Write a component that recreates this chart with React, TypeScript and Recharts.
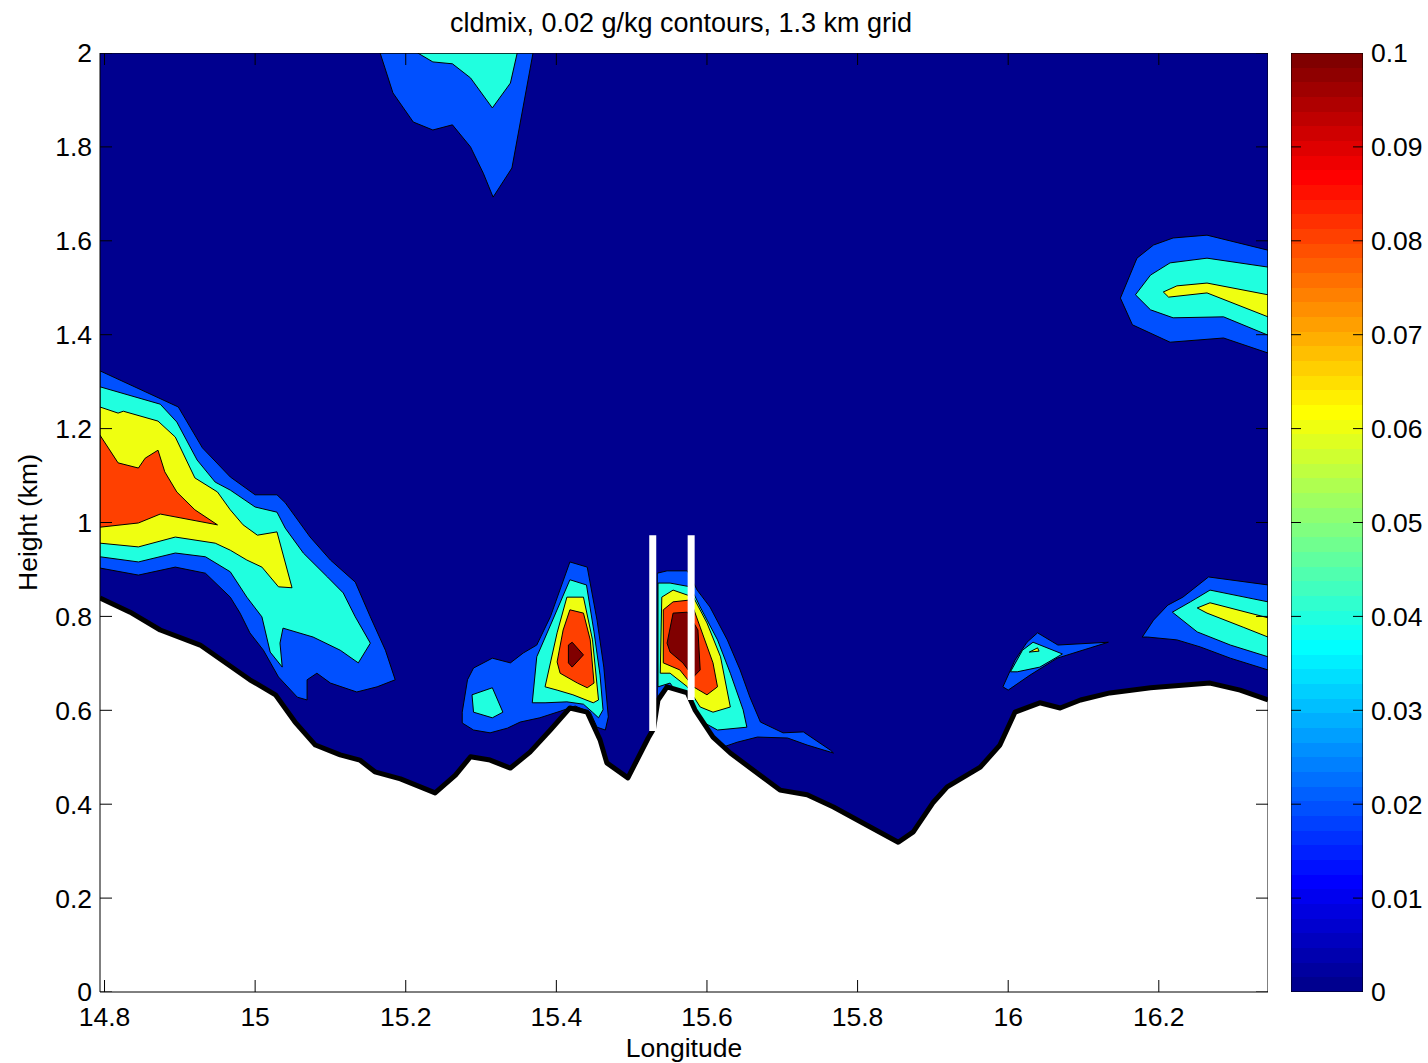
import React from 'react';
import { ComposedChart, XAxis, YAxis, Scatter } from 'recharts';

type Pt = [number, number];

// ---------- axes ----------
const xTicks = [14.8, 15, 15.2, 15.4, 15.6, 15.8, 16, 16.2];
const yTicks = [0, 0.2, 0.4, 0.6, 0.8, 1, 1.2, 1.4, 1.6, 1.8, 2];
const cbTicks = [0, 0.01, 0.02, 0.03, 0.04, 0.05, 0.06, 0.07, 0.08, 0.09, 0.1];
const lonDomain: [number, number] = [14.794, 16.345];
const hDomain: [number, number] = [0, 2];
const cbDomain: [number, number] = [0, 0.1];

// contour level colours (jet colormap at 0, 0.02, 0.04, 0.06, 0.08, 0.1)
const levelColors = ['#00008F', '#0050FF', '#20FFDF', '#EFFF10', '#FF4000', '#800000'];

// ---------- data (lon, height km) ----------
const plotFrame: Pt[] = [[14.794, 0], [14.794, 2], [16.345, 2], [16.345, 0]];
const colorbarFrame: Pt[] = [[0, 0], [0, 0.1], [1, 0.1], [1, 0]];

const terrain: Pt[] = [
  [14.794, 0.839], [14.834, 0.809], [14.874, 0.771], [14.927, 0.739], [14.993, 0.665], [15.027, 0.633],
  [15.053, 0.575], [15.080, 0.526], [15.113, 0.505], [15.139, 0.494], [15.159, 0.469], [15.193, 0.454],
  [15.239, 0.424], [15.266, 0.462], [15.286, 0.501], [15.312, 0.494], [15.339, 0.477], [15.365, 0.511],
  [15.392, 0.558], [15.418, 0.605], [15.441, 0.596], [15.458, 0.537], [15.467, 0.488], [15.495, 0.456],
  [15.522, 0.541], [15.529, 0.560], [15.535, 0.622], [15.547, 0.650], [15.574, 0.637], [15.584, 0.601],
  [15.608, 0.543], [15.631, 0.509], [15.667, 0.466], [15.697, 0.430], [15.733, 0.420], [15.768, 0.394],
  [15.807, 0.360], [15.854, 0.319], [15.874, 0.341], [15.900, 0.403], [15.919, 0.437], [15.963, 0.479],
  [15.989, 0.526], [16.009, 0.596], [16.042, 0.616], [16.069, 0.605], [16.096, 0.622], [16.135, 0.637],
  [16.189, 0.648], [16.268, 0.658], [16.308, 0.643], [16.345, 0.622],
];

const leftBlue: Pt[] = [
  [14.794, 1.323], [14.898, 1.246], [14.930, 1.159], [14.967, 1.097], [15.000, 1.059], [15.029, 1.059],
  [15.040, 1.042], [15.073, 0.969], [15.100, 0.920], [15.133, 0.873], [15.153, 0.799], [15.173, 0.728],
  [15.186, 0.665], [15.162, 0.650], [15.135, 0.639], [15.100, 0.658], [15.082, 0.679], [15.069, 0.665],
  [15.069, 0.622], [15.056, 0.628], [15.031, 0.671], [15.011, 0.728], [14.993, 0.765], [14.980, 0.807],
  [14.967, 0.841], [14.934, 0.892], [14.894, 0.905], [14.845, 0.888], [14.794, 0.903],
];
const leftCyan: Pt[] = [
  [14.794, 1.289], [14.874, 1.252], [14.896, 1.214], [14.923, 1.133], [14.947, 1.086], [14.967, 1.069],
  [15.000, 1.033], [15.029, 1.022], [15.040, 0.988], [15.064, 0.935], [15.096, 0.884], [15.117, 0.850],
  [15.133, 0.799], [15.153, 0.743], [15.137, 0.701], [15.113, 0.728], [15.077, 0.756], [15.037, 0.775],
  [15.033, 0.743], [15.036, 0.692], [15.020, 0.724], [15.009, 0.799], [14.989, 0.841], [14.967, 0.895],
  [14.934, 0.927], [14.894, 0.935], [14.845, 0.916], [14.794, 0.927],
];
const leftYellow: Pt[] = [
  [14.794, 1.246], [14.818, 1.233], [14.825, 1.237], [14.871, 1.216], [14.894, 1.182], [14.920, 1.095],
  [14.950, 1.065], [14.967, 1.027], [14.984, 0.995], [15.003, 0.973], [15.029, 0.980], [15.049, 0.861],
  [15.031, 0.863], [15.009, 0.905], [14.989, 0.920], [14.967, 0.941], [14.947, 0.956], [14.894, 0.969],
  [14.845, 0.948], [14.794, 0.956],
];
const leftOrange: Pt[] = [
  [14.794, 1.186], [14.818, 1.127], [14.845, 1.116], [14.854, 1.137], [14.871, 1.154], [14.880, 1.108],
  [14.896, 1.065], [14.920, 1.027], [14.950, 0.995], [14.874, 1.018], [14.845, 0.999], [14.794, 0.990],
];

const topBlue: Pt[] = [
  [15.166, 2.0], [15.183, 1.915], [15.210, 1.853], [15.236, 1.836], [15.262, 1.847], [15.286, 1.800],
  [15.303, 1.744], [15.316, 1.693], [15.341, 1.755], [15.369, 2.0],
];
const topCyan: Pt[] = [
  [15.216, 2.0], [15.236, 1.981], [15.262, 1.977], [15.286, 1.947], [15.315, 1.883], [15.339, 1.936], [15.348, 2.0],
];

const peakLBlue: Pt[] = [
  [15.275, 0.596], [15.282, 0.665], [15.290, 0.690], [15.315, 0.711], [15.339, 0.701], [15.356, 0.722],
  [15.374, 0.739], [15.392, 0.799], [15.418, 0.916], [15.441, 0.905], [15.454, 0.792], [15.463, 0.692],
  [15.469, 0.586], [15.465, 0.558], [15.454, 0.564], [15.445, 0.596], [15.425, 0.609], [15.405, 0.598],
  [15.378, 0.584], [15.352, 0.575], [15.335, 0.562], [15.312, 0.552], [15.290, 0.558], [15.275, 0.573],
];
const smallCyan: Pt[] = [[15.288, 0.633], [15.315, 0.648], [15.329, 0.596], [15.315, 0.584], [15.290, 0.596]];
const peakLCyan: Pt[] = [
  [15.368, 0.616], [15.374, 0.714], [15.394, 0.788], [15.418, 0.878], [15.440, 0.867], [15.450, 0.767],
  [15.458, 0.675], [15.462, 0.601], [15.456, 0.584], [15.448, 0.596], [15.436, 0.613], [15.414, 0.618], [15.385, 0.616],
];
const peakLYellow: Pt[] = [
  [15.385, 0.650], [15.401, 0.765], [15.414, 0.841], [15.436, 0.841], [15.448, 0.750], [15.454, 0.654],
  [15.456, 0.622], [15.449, 0.616], [15.422, 0.633], [15.401, 0.643],
];
const peakLOrange: Pt[] = [
  [15.401, 0.703], [15.409, 0.771], [15.418, 0.814], [15.436, 0.807], [15.445, 0.750], [15.450, 0.658],
  [15.441, 0.648], [15.428, 0.658], [15.405, 0.679],
];
const peakLRed: Pt[] = [[15.416, 0.739], [15.421, 0.745], [15.436, 0.718], [15.421, 0.692], [15.416, 0.701]];

const peakRBlue: Pt[] = [
  [15.534, 0.892], [15.547, 0.897], [15.574, 0.897], [15.587, 0.856], [15.604, 0.820], [15.627, 0.750],
  [15.644, 0.686], [15.657, 0.628], [15.671, 0.575], [15.701, 0.552], [15.728, 0.554], [15.764, 0.515],
  [15.768, 0.509], [15.733, 0.526], [15.707, 0.541], [15.667, 0.543], [15.640, 0.532], [15.622, 0.522],
  [15.604, 0.541], [15.588, 0.569], [15.575, 0.611], [15.551, 0.643], [15.534, 0.622],
];
const peakRCyan: Pt[] = [
  [15.535, 0.871], [15.551, 0.871], [15.578, 0.863], [15.591, 0.820], [15.614, 0.750], [15.631, 0.679],
  [15.648, 0.601], [15.653, 0.564], [15.614, 0.558], [15.582, 0.586], [15.564, 0.628], [15.551, 0.658], [15.535, 0.650],
];
const peakRYellow: Pt[] = [
  [15.540, 0.841], [15.555, 0.856], [15.582, 0.841], [15.600, 0.786], [15.618, 0.714], [15.631, 0.607],
  [15.608, 0.596], [15.591, 0.607], [15.574, 0.650], [15.551, 0.679], [15.538, 0.679],
];
const peakROrange: Pt[] = [
  [15.542, 0.814], [15.555, 0.831], [15.578, 0.835], [15.591, 0.777], [15.608, 0.701], [15.614, 0.650],
  [15.600, 0.633], [15.582, 0.650], [15.564, 0.686], [15.542, 0.701],
];
const peakRRed: Pt[] = [
  [15.547, 0.743], [15.555, 0.807], [15.574, 0.809], [15.588, 0.771], [15.591, 0.686], [15.582, 0.671],
  [15.568, 0.701], [15.551, 0.724],
];

const trBlue: Pt[] = [
  [16.345, 1.580], [16.264, 1.612], [16.219, 1.606], [16.193, 1.591], [16.171, 1.563], [16.149, 1.478],
  [16.165, 1.421], [16.215, 1.384], [16.286, 1.393], [16.345, 1.361],
];
const trCyan: Pt[] = [
  [16.345, 1.544], [16.264, 1.563], [16.215, 1.553], [16.189, 1.527], [16.169, 1.485], [16.189, 1.453],
  [16.219, 1.436], [16.286, 1.438], [16.345, 1.399],
];
const trYellow: Pt[] = [
  [16.345, 1.485], [16.264, 1.510], [16.224, 1.504], [16.206, 1.491], [16.213, 1.480], [16.264, 1.489], [16.345, 1.438],
];

const smallRBlue: Pt[] = [
  [15.993, 0.650], [16.009, 0.707], [16.025, 0.745], [16.039, 0.765], [16.066, 0.739], [16.133, 0.745],
  [16.109, 0.733], [16.065, 0.711], [16.029, 0.675], [16.000, 0.643],
];
const smallRCyan: Pt[] = [[16.003, 0.682], [16.019, 0.728], [16.033, 0.745], [16.072, 0.720], [16.042, 0.692], [16.012, 0.682]];
const smallRYellow: Pt[] = [[16.028, 0.724], [16.039, 0.733], [16.041, 0.726]];

const brBlue: Pt[] = [
  [16.178, 0.756], [16.193, 0.792], [16.212, 0.824], [16.232, 0.841], [16.266, 0.884], [16.345, 0.867],
  [16.345, 0.686], [16.295, 0.711], [16.255, 0.735], [16.224, 0.750], [16.185, 0.756],
];
const brCyan: Pt[] = [
  [16.218, 0.809], [16.242, 0.831], [16.268, 0.856], [16.345, 0.831], [16.345, 0.714], [16.295, 0.739], [16.251, 0.767],
];
const brYellow: Pt[] = [
  [16.251, 0.818], [16.268, 0.829], [16.345, 0.797], [16.345, 0.756], [16.312, 0.777], [16.264, 0.807],
];

const whiteLine1: Pt[] = [[15.528, 0.973], [15.528, 0.556]];
const whiteLine2: Pt[] = [[15.579, 0.973], [15.579, 0.622]];

// [name, polygon, level index]
const contourLayers: [string, Pt[], number][] = [
  ['leftBlue', leftBlue, 1], ['leftCyan', leftCyan, 2], ['leftYellow', leftYellow, 3], ['leftOrange', leftOrange, 4],
  ['topBlue', topBlue, 1], ['topCyan', topCyan, 2],
  ['peakLBlue', peakLBlue, 1], ['smallCyan', smallCyan, 2], ['peakLCyan', peakLCyan, 2], ['peakLYellow', peakLYellow, 3],
  ['peakLOrange', peakLOrange, 4], ['peakLRed', peakLRed, 5],
  ['peakRBlue', peakRBlue, 1], ['peakRCyan', peakRCyan, 2], ['peakRYellow', peakRYellow, 3],
  ['peakROrange', peakROrange, 4], ['peakRRed', peakRRed, 5],
  ['trBlue', trBlue, 1], ['trCyan', trCyan, 2], ['trYellow', trYellow, 3],
  ['smallRBlue', smallRBlue, 1], ['smallRCyan', smallRCyan, 2], ['smallRYellow', smallRYellow, 3],
  ['brBlue', brBlue, 1], ['brCyan', brCyan, 2], ['brYellow', brYellow, 3],
];

// ---------- helpers ----------
const toData = (pts: Pt[]) => pts.map(([lon, h]) => ({ lon, h }));
const noShape = () => <g />;
const ptsStr = (p: any) => (p && p.points ? p.points : []).map((q: any) => `${q.x},${q.y}`).join(' ');
const polygonLine = (fill: string, stroke: string, sw: number) => (p: any) => (
  <polygon points={ptsStr(p)} fill={fill} stroke={stroke} strokeWidth={sw} strokeLinejoin="round" />
);
const polyLine = (stroke: string, sw: number) => (p: any) => (
  <polyline points={ptsStr(p)} fill="none" stroke={stroke} strokeWidth={sw} strokeLinejoin="round" strokeLinecap="butt" />
);
// inward tick mark drawn at a scaled point: (dx, dy) is its direction and length in px
const tickShape = (dx: number, dy: number) => (p: any) => (
  <line x1={p.cx} y1={p.cy} x2={p.cx + dx} y2={p.cy + dy} stroke="#000" strokeWidth={1} />
);

// jet colormap (64 steps) for the colour bar styling
const jetU = (j: number) => (j <= 16 ? j / 16 : j <= 31 ? 1 : (48 - j) / 16);
const jetColor = (k: number) => {
  const r = k >= 25 ? jetU(k - 24) : 0;
  const g = k >= 9 && k <= 55 ? jetU(k - 8) : 0;
  const b = k <= 39 ? jetU(k + 8) : 0;
  const h = (v: number) => Math.round(Math.max(0, Math.min(1, v)) * 255).toString(16).padStart(2, '0');
  return `#${h(r)}${h(g)}${h(b)}`;
};
const jetStops: React.ReactNode[] = [];
for (let k = 1; k <= 64; k++) {
  const c = jetColor(k);
  jetStops.push(<stop key={`a${k}`} offset={`${((k - 1) / 64) * 100}%`} stopColor={c} />);
  jetStops.push(<stop key={`b${k}`} offset={`${(k / 64) * 100}%`} stopColor={c} />);
}

const FONT = '"Liberation Sans", Arial, Helvetica, sans-serif';
const FS = 26.5;
const tickStyle = { fill: '#000', fontSize: FS };
const blackLine = { stroke: '#000', strokeWidth: 1 };

export default function App() {
  const leftTicks = yTicks.map((h) => ({ lon: lonDomain[0], h }));
  const rightTicks = yTicks.map((h) => ({ lon: lonDomain[1], h }));
  const bottomTicks = xTicks.map((lon) => ({ lon, h: hDomain[0] }));
  const topTicks = xTicks.map((lon) => ({ lon, h: hDomain[1] }));
  const cbLeftTicks = cbTicks.slice(1, -1).map((h) => ({ lon: 0, h }));
  const cbRightTicks = cbTicks.slice(1, -1).map((h) => ({ lon: 1, h }));

  return (
    <div style={{ position: 'absolute', left: 0, top: 0, width: 1428, height: 1063, background: '#fff', fontFamily: FONT, overflow: 'hidden' }}>
      <svg width={0} height={0} style={{ position: 'absolute' }}>
        <defs>
          <linearGradient id="jetBar" x1="0" y1="1" x2="0" y2="0">
            {jetStops}
          </linearGradient>
        </defs>
      </svg>

      <div style={{ position: 'absolute', left: 97, top: 10, width: 1168, textAlign: 'center', fontSize: 27, lineHeight: '27px', color: '#000' }}>
        cldmix, 0.02 g/kg contours, 1.3 km grid
      </div>

      <div style={{ position: 'absolute', left: 0, top: 0 }}>
        <ComposedChart width={1280} height={1063} margin={{ top: 53, right: 12, bottom: 0, left: 0 }}>
          <XAxis
            xAxisId="x" dataKey="lon" type="number" domain={lonDomain} ticks={xTicks} interval={0} allowDataOverflow
            height={71} tickLine={false} axisLine={blackLine} tick={tickStyle} tickMargin={9}
            label={{ value: 'Longitude', position: 'insideBottom', offset: 6, fill: '#000', fontSize: FS }}
          />
          <YAxis
            yAxisId="y" dataKey="h" type="number" domain={hDomain} ticks={yTicks} interval={0} allowDataOverflow
            width={100} tickLine={false} axisLine={blackLine} tick={tickStyle}
            label={{ value: 'Height (km)', angle: -90, position: 'insideLeft', offset: 28, fill: '#000', fontSize: FS, style: { textAnchor: 'middle' } }}
          />

          <Scatter name="background" data={toData(plotFrame)} xAxisId="x" yAxisId="y" isAnimationActive={false}
            shape={noShape} line={polygonLine(levelColors[0], 'none', 0)} />
          {contourLayers.map(([name, pts, lvl]) => (
            <Scatter key={name} name={name} data={toData(pts)} xAxisId="x" yAxisId="y" isAnimationActive={false}
              shape={noShape} line={polygonLine(levelColors[lvl], '#000', 1)} />
          ))}
          <Scatter name="terrainFill" data={toData([...terrain, [16.345, 0], [14.794, 0]])} xAxisId="x" yAxisId="y"
            isAnimationActive={false} shape={noShape} line={polygonLine('#ffffff', 'none', 0)} />
          <Scatter name="terrainLine" data={toData(terrain)} xAxisId="x" yAxisId="y" isAnimationActive={false}
            shape={noShape} line={polyLine('#000', 5)} />
          <Scatter name="white1" data={toData(whiteLine1)} xAxisId="x" yAxisId="y" isAnimationActive={false}
            shape={noShape} line={polyLine('#ffffff', 7)} />
          <Scatter name="white2" data={toData(whiteLine2)} xAxisId="x" yAxisId="y" isAnimationActive={false}
            shape={noShape} line={polyLine('#ffffff', 7)} />

          <Scatter name="ticksLeft" data={leftTicks} xAxisId="x" yAxisId="y" isAnimationActive={false} shape={tickShape(12, 0)} />
          <Scatter name="ticksRight" data={rightTicks} xAxisId="x" yAxisId="y" isAnimationActive={false} shape={tickShape(-12, 0)} />
          <Scatter name="ticksBottom" data={bottomTicks} xAxisId="x" yAxisId="y" isAnimationActive={false} shape={tickShape(0, -12)} />
          <Scatter name="ticksTop" data={topTicks} xAxisId="x" yAxisId="y" isAnimationActive={false} shape={tickShape(0, 12)} />
          <Scatter name="frame" data={toData(plotFrame)} xAxisId="x" yAxisId="y" isAnimationActive={false}
            shape={noShape} line={polygonLine('none', '#000', 1)} />
        </ComposedChart>
      </div>

      <div style={{ position: 'absolute', left: 1270, top: 0 }}>
        <ComposedChart width={158} height={1063} margin={{ top: 53, right: 0, bottom: 71, left: 21 }}>
          <XAxis xAxisId="cx" dataKey="lon" type="number" domain={[0, 1]} hide allowDataOverflow />
          <YAxis yAxisId="cy" dataKey="h" orientation="right" type="number" domain={cbDomain} ticks={cbTicks} interval={0} allowDataOverflow
            width={65} tickLine={false} axisLine={false} tick={tickStyle} />
          <Scatter name="colorbar" data={toData(colorbarFrame)} xAxisId="cx" yAxisId="cy" isAnimationActive={false}
            shape={noShape} line={polygonLine('url(#jetBar)', '#000', 1)} />
          <Scatter name="cbTicksLeft" data={cbLeftTicks} xAxisId="cx" yAxisId="cy" isAnimationActive={false} shape={tickShape(10, 0)} />
          <Scatter name="cbTicksRight" data={cbRightTicks} xAxisId="cx" yAxisId="cy" isAnimationActive={false} shape={tickShape(-10, 0)} />
        </ComposedChart>
      </div>
    </div>
  );
}
